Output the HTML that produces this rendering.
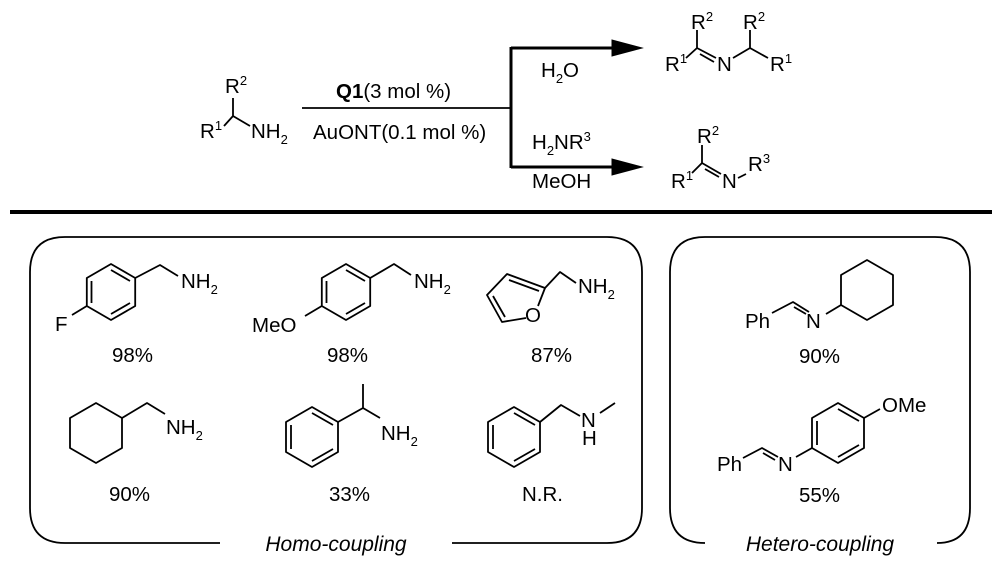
<!DOCTYPE html>
<html><head><meta charset="utf-8"><style>
html,body{margin:0;padding:0;background:#fff;}
svg{display:block;}
text{font-family:"Liberation Sans",Arial,sans-serif;fill:#000;}
.t{font-size:20.5px;}
.s{font-size:13px;}
.i{font-size:21px;font-style:italic;}
</style></head><body>
<svg width="1000" height="567" viewBox="0 0 1000 567" xmlns="http://www.w3.org/2000/svg">
<g stroke="#000" stroke-width="1.8" fill="none" stroke-linejoin="round">
<!-- reactant -->
<path d="M224,126 L233,116 L250,126 M233,116 L233,98"/>
<!-- reaction line -->
<path d="M302,108 L511,108"/>
<path d="M511,47 L511,168 M511,48 L615,48 M511,167 L615,167" stroke-width="3"/>
<!-- product 1 -->
<path d="M686,58 L697,48 L716,58 M700,54 L714,62 M697,48 L697,30 M733,58 L750,48 L768,58 M750,48 L750,30"/>
<!-- product 2 -->
<path d="M692,173 L702,163 L721,174 M705,169 L719,177 M702,163 L702,145 M738,178 L746,174"/>
<!-- separator -->
<path d="M10,212 L992,212" stroke-width="4"/>
<!-- boxes -->
<path d="M220,543 L65,543 Q30,543 30,508 L30,272 Q30,237 65,237 L607,237 Q642,237 642,272 L642,508 Q642,543 607,543 L452,543"/>
<path d="M705,543 Q670,543 670,508 L670,272 Q670,237 705,237 L935,237 Q970,237 970,272 L970,508 Q970,543 937,543"/>
<!-- mol1 F-benzyl -->
<path d="M111,264 L135.2,278 L135.2,306 L111,320 L86.8,306 L86.8,278 Z"/>
<path d="M111,270 L130,281 M130,303 L111,314 M91.5,303 L91.5,281"/>
<path d="M135.2,278 L160,265 L178,276 M86.8,306 L72,315"/>
<!-- mol2 MeO-benzyl -->
<path d="M346,264 L370.2,278 L370.2,306 L346,320 L321.8,306 L321.8,278 Z"/>
<path d="M346,270 L365,281 M365,303 L346,314 M326.5,303 L326.5,281"/>
<path d="M370.2,278 L394,264 L411,275 M321.8,306 L305,316"/>
<!-- mol3 furan -->
<path d="M538,306 L545,288 L507,274 L487,295 L502,322 L526,318"/>
<path d="M509,280 L539,291 M493,296 L505,317"/>
<path d="M545,288 L560,272 L576,283"/>
<!-- mol4 cyclohexylmethyl -->
<path d="M96,403 L122,418 L122,448 L96,463 L70,448 L70,418 Z"/>
<path d="M122,418 L147,403 L165,414"/>
<!-- mol5 phenethyl -->
<path d="M312,407 L338,422 L338,452 L312,467 L286,452 L286,422 Z"/>
<path d="M312,413 L333,425 M333,449 L312,461 M291,449 L291,425"/>
<path d="M338,422 L363,408 L380,418 M363,408 L363,384"/>
<!-- mol6 N-methylbenzyl -->
<path d="M514,407 L540,422 L540,452 L514,467 L488,452 L488,422 Z"/>
<path d="M514,413 L535,425 M535,449 L514,461 M493,449 L493,425"/>
<path d="M540,422 L561,405 L580,416 M600,413 L615,403"/>
<!-- mol7 -->
<path d="M772,313 L793,302 L809,312 M794,307 L806,314"/>
<path d="M867,260 L893,275 L893,305 L867,320 L841,305 L841,275 Z"/>
<path d="M826,314 L841,305"/>
<!-- mol8 -->
<path d="M743,458 L762,448 L778,457 M763,453 L775,460"/>
<path d="M838,403 L864,418 L864,448 L838,463 L812,448 L812,418 Z"/>
<path d="M838,409 L859,421 M859,445 L838,457 M817,445 L817,421"/>
<path d="M796,457 L812,448 M864,418 L880,409"/>
</g>
<g stroke="#000" fill="#000">
<path d="M642,48 L612,40 L612,56 Z M642,167 L612,159 L612,175 Z"/>
</g>
<!-- reactant labels -->
<text class="t" x="225" y="93">R<tspan class="s" dy="-8">2</tspan></text>
<text class="t" x="200" y="138">R<tspan class="s" dy="-8">1</tspan></text>
<text class="t" x="251" y="138">NH<tspan class="s" dy="6">2</tspan></text>
<text class="t" x="336" y="98"><tspan font-weight="bold">Q1</tspan>(3 mol %)</text>
<text class="t" x="313" y="139">AuONT(0.1 mol %)</text>
<text class="t" x="541" y="77">H<tspan class="s" dy="6">2</tspan><tspan dy="-6">O</tspan></text>
<text class="t" x="532" y="149">H<tspan class="s" dy="6">2</tspan><tspan dy="-6">NR</tspan><tspan class="s" dy="-8">3</tspan></text>
<text class="t" x="532" y="188">MeOH</text>
<!-- product1 labels -->
<text class="t" x="691" y="29">R<tspan class="s" dy="-8">2</tspan></text>
<text class="t" x="665" y="71">R<tspan class="s" dy="-8">1</tspan></text>
<text class="t" x="717" y="71">N</text>
<text class="t" x="743" y="29">R<tspan class="s" dy="-8">2</tspan></text>
<text class="t" x="770" y="71">R<tspan class="s" dy="-8">1</tspan></text>
<!-- product2 labels -->
<text class="t" x="697" y="143">R<tspan class="s" dy="-8">2</tspan></text>
<text class="t" x="671" y="188">R<tspan class="s" dy="-8">1</tspan></text>
<text class="t" x="722" y="188">N</text>
<text class="t" x="748" y="171">R<tspan class="s" dy="-8">3</tspan></text>
<!-- homo labels -->
<text class="t" x="181" y="288">NH<tspan class="s" dy="6">2</tspan></text>
<text class="t" x="55" y="331">F</text>
<text class="t" x="112" y="362">98%</text>
<text class="t" x="414" y="288">NH<tspan class="s" dy="6">2</tspan></text>
<text class="t" x="252" y="332">MeO</text>
<text class="t" x="327" y="362">98%</text>
<text class="t" x="578" y="293">NH<tspan class="s" dy="6">2</tspan></text>
<text class="t" x="525" y="322">O</text>
<text class="t" x="531" y="362">87%</text>
<text class="t" x="166" y="434">NH<tspan class="s" dy="6">2</tspan></text>
<text class="t" x="109" y="501">90%</text>
<text class="t" x="381" y="440">NH<tspan class="s" dy="6">2</tspan></text>
<text class="t" x="329" y="501">33%</text>
<text class="t" x="581" y="427">N</text>
<text class="t" x="582" y="445">H</text>
<text class="t" x="522" y="501">N.R.</text>
<text class="i" x="336" y="551" text-anchor="middle">Homo-coupling</text>
<!-- hetero labels -->
<text class="t" x="745" y="328">Ph</text>
<text class="t" x="806" y="328">N</text>
<text class="t" x="799" y="363">90%</text>
<text class="t" x="882" y="412">OMe</text>
<text class="t" x="717" y="471">Ph</text>
<text class="t" x="778" y="471">N</text>
<text class="t" x="799" y="502">55%</text>
<text class="i" x="820" y="551" text-anchor="middle">Hetero-coupling</text>
</svg>
</body></html>
